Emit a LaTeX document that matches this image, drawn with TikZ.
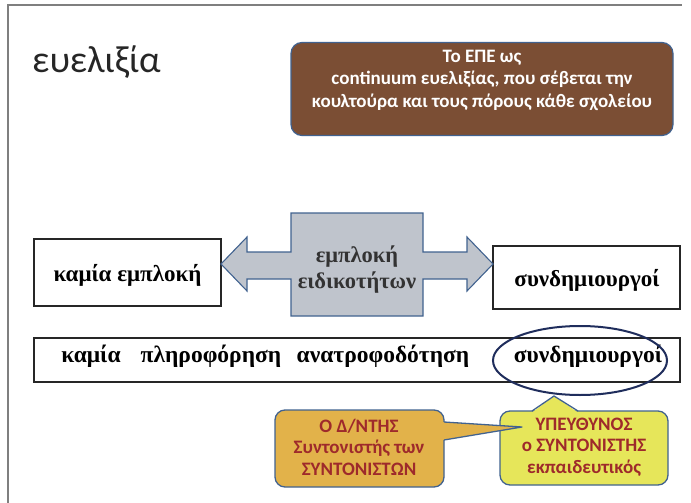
\documentclass[tikz,border=0pt]{standalone}
\usepackage{fontspec}
\setmainfont{Liberation Serif}
\newfontfamily\calib{Carlito}
\usetikzlibrary{shapes.geometric}
\definecolor{framegray}{HTML}{7F7F7F}
\definecolor{brownfill}{HTML}{7B4E34}
\definecolor{blueline}{HTML}{41628F}
\definecolor{grayfill}{HTML}{BFC4CC}
\definecolor{orangefill}{HTML}{E2B24A}
\definecolor{yellowfill}{HTML}{E6E65A}
\definecolor{redtext}{HTML}{9E2A2B}
\definecolor{navy}{HTML}{1F2D5C}
\definecolor{boxline}{HTML}{262626}
\tikzset{
  serifbold/.style={font=\bfseries\fontsize{23}{27}\selectfont, text=black},
  barbold/.style={font=\bfseries\fontsize{23.5}{27}\selectfont, text=black},
  plainbox/.style={draw=boxline, line width=2.2pt, fill=white, inner sep=0pt},
  brownbox/.style={draw=blueline, line width=1.2pt, fill=brownfill, rounded corners=11pt},
  browntext/.style={text=white, align=center, font=\calib\bfseries\fontsize{19}{22.5}\selectfont},
  calloutbox/.style={draw=blueline, line width=1.3pt, rounded corners=10pt},
  callouttext/.style={text=redtext, align=center, font=\calib\bfseries\fontsize{19}{21.5}\selectfont},
}
\begin{document}
\begin{tikzpicture}[x=1pt,y=-1pt]
\useasboundingbox (0,0) rectangle (691,503);
% slide frame
\draw[framegray, line width=1.5pt] (8,503) -- (8,5) -- (682,5);
% title
\node[anchor=base west, inner sep=0pt, text=black!85, font=\calib\fontsize{38}{44}\selectfont] (title) at (32,73) {ευελιξία};
% brown box
\node[brownbox, minimum width=382pt, minimum height=93pt] (epe) at (482,89) {};
\node[browntext] (epetext) at (482,80)
  {Το ΕΠΕ ως\\continuum ευελιξίας, που σέβεται την\\κουλτούρα και τους πόρους κάθε σχολείου};
% left and right boxes
\node[plainbox, minimum width=187pt, minimum height=67pt] (left) at (127.5,272.5) {};
\node[serifbold, anchor=base] (lefttext) at (127.5,281) {καμία εμπλοκή};
\node[plainbox, minimum width=187pt, minimum height=63pt] (right) at (586.5,277.5) {};
\node[serifbold, anchor=base] (righttext) at (587,286) {συνδημιουργοί};
% double arrow callout
\filldraw[fill=grayfill, draw=blueline, line width=1.1pt]
  (291,213) -- (423,213) -- (423,252) -- (467,252) -- (467,237) -- (493,264) -- (467,291)
  -- (467,279) -- (423,279) -- (423,316) -- (291,316) -- (291,279) -- (247,279) -- (247,291)
  -- (221,264) -- (247,237) -- (247,252) -- (291,252) -- cycle;
\node[serifbold, font=\bfseries\fontsize{22.5}{27}\selectfont, text=black!80, anchor=base] (spec1) at (357,262) {εμπλοκή};
\node[serifbold, font=\bfseries\fontsize{22.5}{27}\selectfont, text=black!80, anchor=base] (spec2) at (357,288) {ειδικοτήτων};
% bottom bar
\node[plainbox, minimum width=646pt, minimum height=44pt] (bar) at (357,360) {};
\node[barbold, anchor=base] (b1) at (91,362) {καμία};
\node[barbold, anchor=base] (b2) at (211,362) {πληροφόρηση};
\node[barbold, anchor=base] (b3) at (383,362) {ανατροφοδότηση};
\node[barbold, anchor=base] (b4) at (588,362) {συνδημιουργοί};
\node[draw=navy, line width=2pt, ellipse, minimum width=174pt, minimum height=69pt, inner sep=0pt] (ell) at (580,360.5) {};
% yellow callout
\draw[calloutbox, fill=yellowfill] (500,411) rectangle (668,485);
\fill[yellowfill] (532,412.5) -- (554,396) -- (578,412.5) -- cycle;
\draw[blueline, line width=1.3pt, line join=round] (532,411) -- (554,396) -- (578,411);
\node[callouttext] (ytext) at (584,447) {ΥΠΕΥΘΥΝΟΣ\\ο ΣΥΝΤΟΝΙΣΤΗΣ\\εκπαιδευτικός};
% orange callout
\draw[calloutbox, fill=orangefill] (275,410) rectangle (444,487);
\fill[orangefill] (442.5,422) -- (522,427) -- (442.5,440) -- cycle;
\draw[blueline, line width=1.3pt, line join=round] (444,422) -- (522,427) -- (444,440);
\node[callouttext] (otext) at (359,447) {Ο Δ/ΝΤΗΣ\\Συντονιστής των\\ΣΥΝΤΟΝΙΣΤΩΝ};
\end{tikzpicture}
\end{document}
